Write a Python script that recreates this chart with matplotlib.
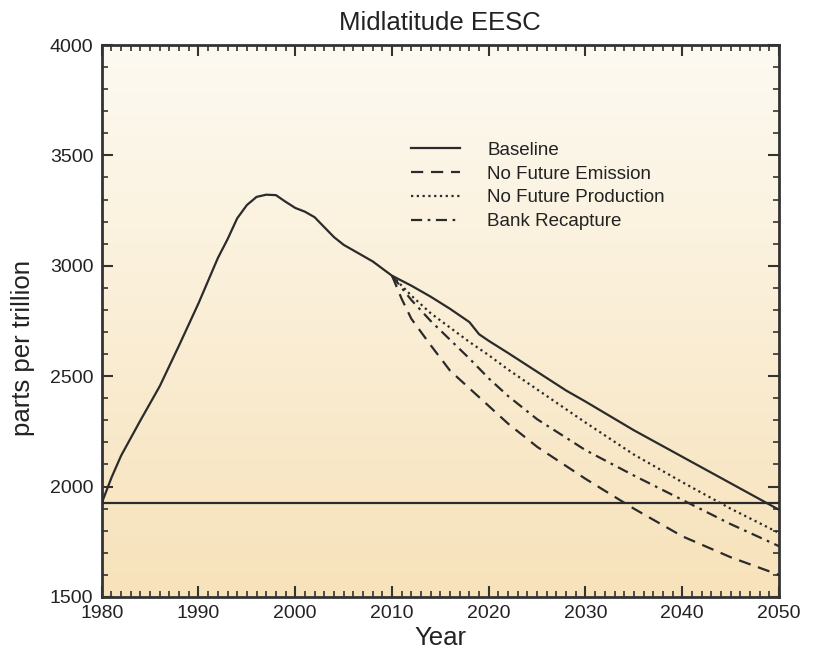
import numpy as np
import matplotlib
matplotlib.use("Agg")
import matplotlib.pyplot as plt
from matplotlib.ticker import MultipleLocator
from matplotlib.colors import LinearSegmentedColormap

plt.rcParams['font.family'] = ['Liberation Sans', 'DejaVu Sans']

# ---- data ----
base_years = [1980, 1981, 1982, 1984, 1986, 1988, 1990, 1992, 1993, 1994, 1995, 1996,
              1997, 1998, 1999, 2000, 2001, 2002, 2003, 2004, 2005, 2006, 2008, 2010,
              2012, 2014, 2016, 2017.5, 2018, 2019, 2020, 2022, 2025, 2028, 2030, 2035,
              2040, 2045, 2050]
base_vals = [1925, 2040, 2140, 2300, 2455, 2640, 2830, 3035, 3120, 3215, 3275, 3312,
             3322, 3320, 3290, 3262, 3245, 3220, 3175, 3130, 3095, 3070, 3020, 2955,
             2910, 2860, 2805, 2760, 2745, 2690, 2660, 2605, 2520, 2435, 2385, 2255,
             2135, 2015, 1895]

scen_years = [2010, 2011, 2012, 2014, 2016, 2018, 2020, 2022, 2025, 2030, 2035, 2040, 2045, 2050]
no_emission = [2955, 2850, 2760, 2640, 2525, 2445, 2365, 2285, 2180, 2035, 1900, 1775, 1680, 1600]
no_production = [2955, 2910, 2865, 2785, 2720, 2655, 2595, 2530, 2440, 2290, 2145, 2020, 1900, 1790]
bank_recapture = [2955, 2900, 2845, 2750, 2665, 2580, 2490, 2410, 2305, 2165, 2050, 1940, 1830, 1730]

reference_level = 1926
x_ticks = [1980, 1990, 2000, 2010, 2020, 2030, 2040, 2050]
y_ticks = [1500, 2000, 2500, 3000, 3500, 4000]

line_color = '#2b2b2b'

fig = plt.figure(figsize=(8.14, 6.56), dpi=100)
ax = fig.add_axes([0.125, 0.09, 0.832, 0.8414])

# gradient background
cmap = LinearSegmentedColormap.from_list('bg', ['#f7e2ba', '#fdfaf2'])
grad = np.linspace(0, 1, 256).reshape(-1, 1)
ax.imshow(grad, cmap=cmap, aspect='auto', extent=[0, 1, 0, 1],
          transform=ax.transAxes, origin='lower', zorder=0)

lw = 1.6
ax.plot(base_years, base_vals, color=line_color, lw=lw, label='Baseline', zorder=3)
ax.plot(scen_years, no_emission, color=line_color, lw=lw, ls=(0, (5.5, 3.5)),
        label='No Future Emission', zorder=3)
ax.plot(scen_years, no_production, color=line_color, lw=lw, ls=(0, (1, 1.6)),
        label='No Future Production', zorder=3)
ax.plot(scen_years, bank_recapture, color=line_color, lw=lw, ls=(0, (5, 2.5, 1.2, 2.5)),
        label='Bank Recapture', zorder=3)
ax.axhline(reference_level, color=line_color, lw=1.6, zorder=3)

ax.set_xlim(1980, 2050)
ax.set_ylim(1500, 4000)
ax.set_xticks(x_ticks)
ax.set_yticks(y_ticks)
ax.xaxis.set_minor_locator(MultipleLocator(1))
ax.yaxis.set_minor_locator(MultipleLocator(100))
ax.tick_params(which='both', direction='in', top=True, right=True,
               color='#333333', labelsize=14, labelcolor='#222222')
ax.tick_params(which='major', length=8, width=1.5, pad=6)
ax.tick_params(which='minor', length=4, width=1.2)
for s in ax.spines.values():
    s.set_linewidth(2)
    s.set_color('#333333')

ax.set_title('Midlatitude EESC', fontsize=18.5, color='#222222', pad=11)
ax.set_xlabel('Year', fontsize=18.5, color='#222222', labelpad=3)
ax.set_ylabel('parts per trillion', fontsize=18.5, color='#222222')
ax.yaxis.set_label_coords(-0.099, 0.451)

ax.legend(loc='upper left', bbox_to_anchor=(0.443, 0.842), frameon=False,
          fontsize=13.5, handlelength=2.6, handletextpad=1.45, labelspacing=0.36,
          borderpad=0, labelcolor='#222222')

fig.savefig('out.png', dpi=100)
